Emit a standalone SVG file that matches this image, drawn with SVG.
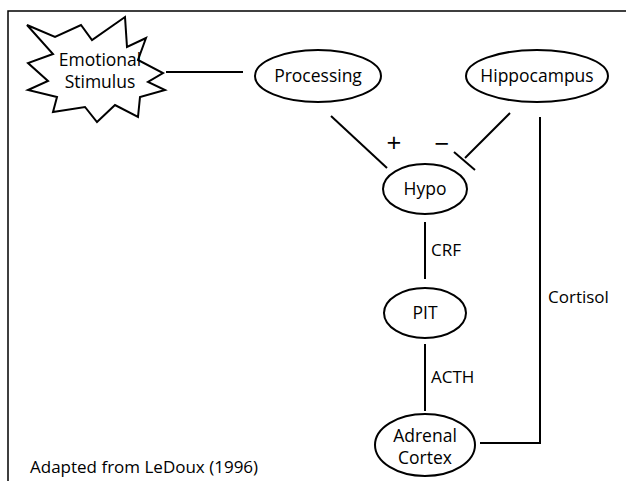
<svg xmlns="http://www.w3.org/2000/svg" width="627" height="481" viewBox="0 0 627 481">
<style>
.t{font-family:"Open Sans","Noto Sans","Liberation Sans",sans-serif;font-size:17.5px;fill:#000}
.s{font-size:17px}
.pm{font-size:26px}
.n{fill:#fff;stroke:#000;stroke-width:2}
.c{fill:none;stroke:#000;stroke-width:2}
.f{fill:none;stroke:#000;stroke-width:1.5}
</style>
<rect width="627" height="481" fill="#fff"/>
<g id="frame"><path class="f" d="M8 481V11H626"/></g>
<g id="connectors">
<path class="c" d="M166 72H243"/>
<path class="c" d="M331 116L387 168"/>
<path class="c" d="M510 113L465 158"/>
<path class="c" d="M454 152L475 170"/>
<path class="c" d="M540 117V443H480"/>
<path class="c" d="M425 222V279"/>
<path class="c" d="M425 344V411"/>
<text class="t pm" x="394" y="152" text-anchor="middle">+</text>
<text class="t pm" x="442" y="153" text-anchor="middle">−</text>
<text class="t s" x="431" y="256">CRF</text>
<text class="t s" x="431" y="383">ACTH</text>
<text class="t s" x="548" y="303">Cortisol</text>
</g>
<g id="stimulus">
<polygon class="n" points="27,25 55,37 81,25 92,40 125,17 127,47 146,38 138,60 163,73 148,82 165,90 140,97 138,117 115,105 97,122 85,107 53,112 57,97 28,90 48,81 28,63 53,54"/>
<text class="t" x="100" y="66" text-anchor="middle">Emotional</text>
<text class="t" x="100" y="88" text-anchor="middle">Stimulus</text>
</g>
<g id="processing">
<ellipse class="n" cx="318" cy="76" rx="63" ry="26"/>
<text class="t" x="318" y="82" text-anchor="middle">Processing</text>
</g>
<g id="hippocampus">
<ellipse class="n" cx="537" cy="76" rx="71" ry="26"/>
<text class="t" x="537" y="82" text-anchor="middle">Hippocampus</text>
</g>
<g id="hypo">
<ellipse class="n" cx="425" cy="189" rx="42" ry="25"/>
<text class="t" x="425" y="195" text-anchor="middle">Hypo</text>
</g>
<g id="pit">
<ellipse class="n" cx="425" cy="313" rx="41" ry="25"/>
<text class="t" x="425" y="319" text-anchor="middle">PIT</text>
</g>
<g id="adrenal">
<ellipse class="n" cx="425" cy="445" rx="50" ry="31"/>
<text class="t" x="425" y="442" text-anchor="middle">Adrenal</text>
<text class="t" x="425" y="464" text-anchor="middle">Cortex</text>
</g>
<g id="credit">
<text class="t s" x="30" y="473">Adapted from LeDoux (1996)</text>
</g>
</svg>
